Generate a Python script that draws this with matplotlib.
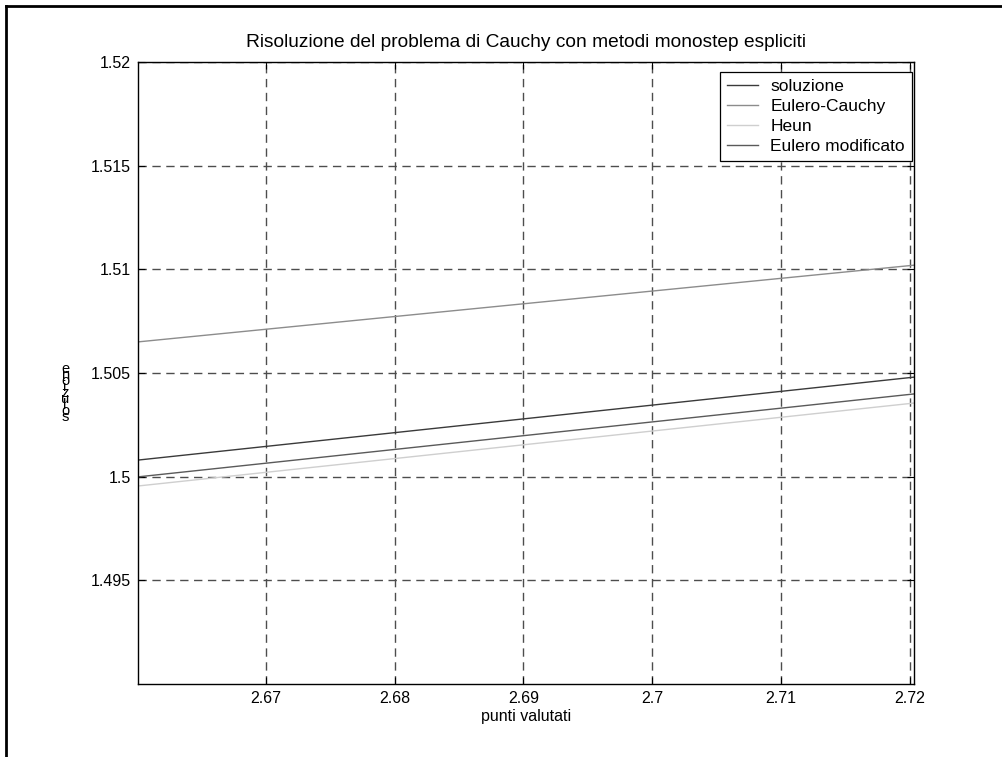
"""Cauchy problem, explicit one-step methods - zoomed comparison (MATLAB-style look)."""
import matplotlib

matplotlib.use("Agg")
import matplotlib.pyplot as plt
from matplotlib.lines import Line2D

plt.rcParams["font.family"] = ["Liberation Sans", "DejaVu Sans"]
plt.rcParams["font.size"] = 11.5

# data (end points of the visible segments)
x_pts = [2.6601, 2.7203]
soluzione = [1.5008, 1.5048]
eulero_cauchy = [1.5065, 1.5102]
heun = [1.49955, 1.50355]
eulero_mod = [1.49999, 1.50399]

series_names = ["soluzione", "Eulero-Cauchy", "Heun", "Eulero modificato"]
series_colors = ["#3a3a3a", "#8c8c8c", "#cfcfcf", "#5a5a5a"]

x_ticks = [2.67, 2.68, 2.69, 2.70, 2.71, 2.72]
x_labels = ["2.67", "2.68", "2.69", "2.7", "2.71", "2.72"]
y_ticks = [1.495, 1.500, 1.505, 1.510, 1.515, 1.520]
y_labels = ["1.495", "1.5", "1.505", "1.51", "1.515", "1.52"]

W, H = 1003, 757
fig = plt.figure(figsize=(W / 100, H / 100), dpi=100, facecolor="white")
ax = fig.add_axes([138 / W, 1 - 684 / H, 776 / W, 622 / H])

for ys, name, col in zip([soluzione, eulero_cauchy, heun, eulero_mod], series_names, series_colors):
    ax.plot(x_pts, ys, color=col, lw=1.0, label=name)

ax.set_xlim(2.6601, 2.7203)
ax.set_ylim(1.49, 1.52)
ax.set_xticks(x_ticks)
ax.set_xticklabels(x_labels)
ax.set_yticks(y_ticks)
ax.set_yticklabels(y_labels)
ax.tick_params(direction="in", top=True, right=True, length=5, width=0.8, pad=5)
ax.grid(True, color="#4d4d4d", ls=(0, (6, 4)), lw=1.0)
for s in ax.spines.values():
    s.set_linewidth(1.0)

ax.set_title("Risoluzione del problema di Cauchy con metodi monostep espliciti", pad=11)
ax.set_xlabel("punti valutati", labelpad=2)

# garbled y label: upright glyphs stacked on top of each other
word = "soluzione"
for i, ch in enumerate(word):
    fig.text(65 / W, 1 - (417 - i * 6.0) / H, ch, ha="center", va="center", fontsize=10.5)

leg = ax.legend(loc="upper right", bbox_to_anchor=(912 / W, 1 - 72 / H),
                bbox_transform=fig.transFigure, borderaxespad=0, fancybox=False,
                framealpha=1, edgecolor="black", handlelength=1.8, labelspacing=0.28,
                borderpad=0.4, handletextpad=0.7, fontsize=12.5)
leg.get_frame().set_linewidth(0.9)

# outer frame (only top and left edges visible)
fig.add_artist(Line2D([6 / W, 1], [1 - 6 / H, 1 - 6 / H], color="black", lw=2, transform=fig.transFigure))
fig.add_artist(Line2D([6 / W, 6 / W], [0, 1 - 6 / H], color="black", lw=2, transform=fig.transFigure))

fig.savefig("out.png", dpi=100, facecolor="white")
